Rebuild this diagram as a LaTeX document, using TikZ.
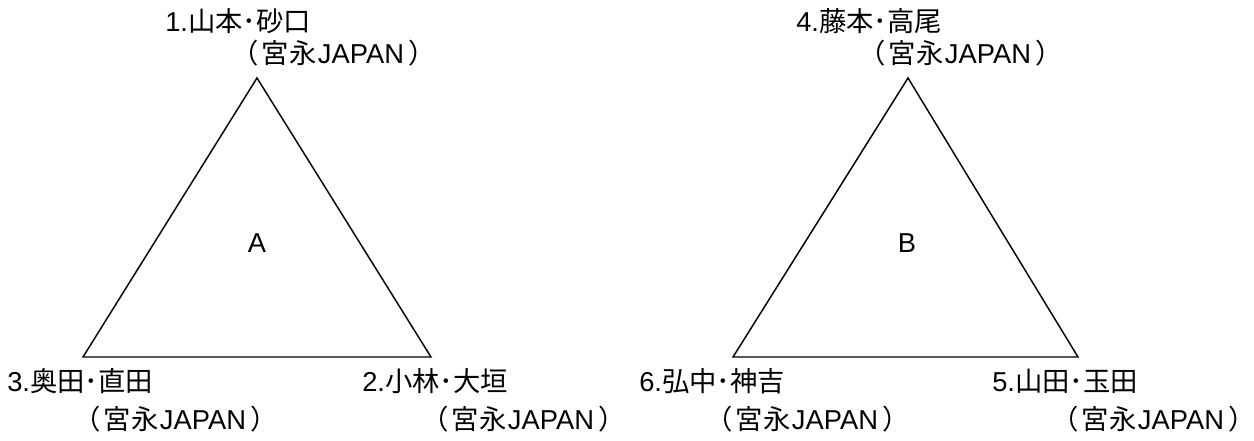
\documentclass[tikz,border=0pt]{standalone}
\usepackage{fontspec}
\setmainfont{Liberation Sans}
\newfontfamily\jpfont{Noto Sans CJK JP}
\begin{document}
\begin{tikzpicture}[x=0.75pt,y=-0.75pt,
  lbl/.style={anchor=base west,inner sep=0pt,font=\fontsize{20.5}{24}\selectfont},
  ctr/.style={inner sep=0pt,font=\fontsize{20.5}{24}\selectfont},
  edge/.style={draw=black,line width=1.1pt,line join=miter}]
\useasboundingbox (0,0) rectangle (1254,440);
% triangle A
\coordinate (a1) at (257,78);
\coordinate (a2) at (431,357);
\coordinate (a3) at (83,357);
\draw[edge] (a1) -- (a2) -- (a3) -- cycle;
\node[ctr] (la) at (257,243) {A};
\node[lbl] (t1) at (165,31) {1.{\jpfont 山本･砂口}};
\node[lbl] (j1) at (231,63) {{\jpfont （\kern2.5pt 宮永}\kern1pt JAPAN\kern3pt{\jpfont ）}\kern-0.5em};
\node[lbl] (t3) at (7,391) {3.{\jpfont 奥田･直田}};
\node[lbl] (j3) at (73,429) {{\jpfont （\kern2.5pt 宮永}\kern1pt JAPAN\kern3pt{\jpfont ）}\kern-0.5em};
\node[lbl] (t2) at (362,391) {2.{\jpfont 小林･大垣}};
\node[lbl] (j2) at (421,429) {{\jpfont （\kern2.5pt 宮永}\kern1pt JAPAN\kern3pt{\jpfont ）}\kern-0.5em};
% triangle B
\coordinate (b1) at (908,78);
\coordinate (b2) at (1078,357);
\coordinate (b3) at (733,357);
\draw[edge] (b1) -- (b2) -- (b3) -- cycle;
\node[ctr] (lb) at (907,243) {B};
\node[lbl] (t4) at (796,31) {4.{\jpfont 藤本･高尾}};
\node[lbl] (j4) at (858,63) {{\jpfont （\kern2.5pt 宮永}\kern1pt JAPAN\kern3pt{\jpfont ）}\kern-0.5em};
\node[lbl] (t6) at (639,391) {6.{\jpfont 弘中･神吉}};
\node[lbl] (j6) at (705,429) {{\jpfont （\kern2.5pt 宮永}\kern1pt JAPAN\kern3pt{\jpfont ）}\kern-0.5em};
\node[lbl] (t5) at (992,391) {5.{\jpfont 山田･玉田}};
\node[lbl] (j5) at (1051,429) {{\jpfont （\kern2.5pt 宮永}\kern1pt JAPAN\kern3pt{\jpfont ）}\kern-0.5em};
\end{tikzpicture}
\end{document}
